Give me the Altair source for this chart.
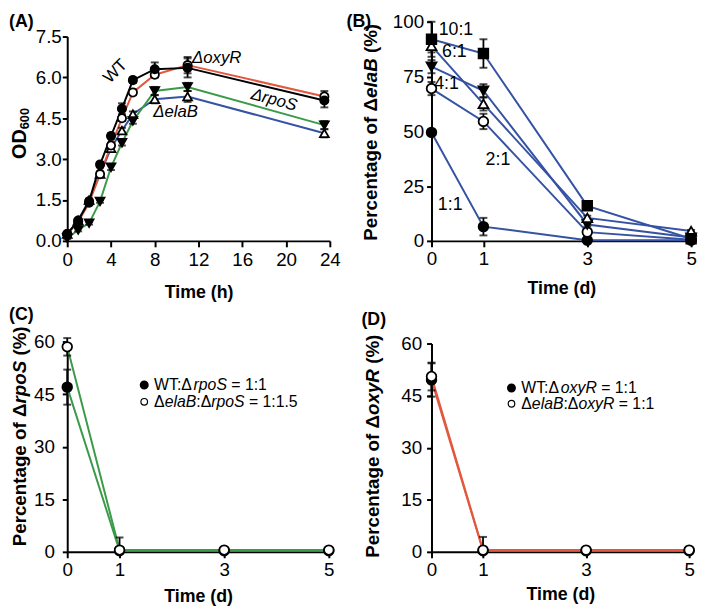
import altair as alt
import pandas as pd

FONT = "Liberation Sans"
RED = "#e2583f"
GREEN = "#3b9a48"
BLUE = "#3552a3"

# ---------------- (A) growth curves: OD600 vs time (h) ----------------
a_time = [0, 1, 2, 3, 4, 5, 6, 8, 11, 23.5]
a_wt = [0.25, 0.75, 1.45, 2.80, 3.85, 4.85, 5.90, 6.30, 6.35, 5.15]
a_wt_err = [0.05, 0.05, 0.08, 0.10, 0.10, 0.20, 0.10, 0.25, 0.35, 0.25]
a_oxyr = [0.25, 0.70, 1.40, 2.45, 3.50, 4.50, 5.45, 6.10, 6.45, 5.30]
a_oxyr_err = [0.05, 0.05, 0.05, 0.10, 0.10, 0.10, 0.10, 0.10, 0.30, 0.20]
a_rpos = [0.10, 0.40, 0.65, 1.45, 2.70, 3.60, 4.40, 5.50, 5.65, 4.25]
a_rpos_err = [0.03, 0.05, 0.05, 0.05, 0.10, 0.10, 0.10, 0.15, 0.15, 0.15]
a_elab = [0.25, 0.75, 1.50, 2.45, 3.40, 4.05, 4.65, 5.20, 5.30, 3.95]
a_elab_err = [0.03, 0.05, 0.05, 0.05, 0.10, 0.10, 0.10, 0.15, 0.20, 0.15]
a_xticks = [0, 4, 8, 12, 16, 20, 24]
a_yticks = [0, 1.5, 3.0, 4.5, 6.0, 7.5]
a_lab_text = ["WT", "ΔoxyR", "ΔrpoS", "ΔelaB"]
a_lab_t = [4.4, 11.4, 18.9, 9.9]
a_lab_v = [6.22, 6.72, 5.17, 4.74]

# ---------------- (B) competition ΔelaB vs WT at ratios ----------------
b_time = [0, 1, 3, 5]
b_10 = [92.0, 85.5, 16.0, 1.0]
b_10_err = [8.0, 6.5, 1.5, 0.5]
b_6 = [89.0, 62.5, 10.5, 4.5]
b_6_err = [3.0, 3.0, 1.0, 0.5]
b_4 = [79.5, 68.5, 7.5, 1.5]
b_4_err = [3.0, 3.0, 1.0, 0.5]
b_2 = [69.5, 54.5, 4.0, 0.5]
b_2_err = [3.0, 3.5, 1.0, 0.3]
b_1 = [49.5, 6.5, 0.3, 0.3]
b_1_err = [1.0, 4.0, 0.3, 0.3]
b_yticks = [0, 25, 50, 75, 100]
b_lab_text = ["10:1", "6:1", "4:1", "2:1", "1:1"]
b_lab_t = [0.47, 0.44, 0.29, 1.28, 0.36]
b_lab_v = [96.0, 86.0, 71.4, 37.0, 16.5]

# ---------------- (C) ΔrpoS competitions ----------------
c_time = [0, 1, 3, 5]
c_wt = [47.0, 0.3, 0.3, 0.3]
c_wt_err = [5.0, 0.3, 0.2, 0.2]
c_elab = [58.5, 0.5, 0.5, 0.5]
c_elab_err = [2.5, 3.6, 0.2, 0.2]

# ---------------- (D) ΔoxyR competitions ----------------
d_time = [0, 1, 3, 5]
d_wt = [49.5, 0.3, 0.3, 0.3]
d_wt_err = [4.8, 0.3, 0.2, 0.2]
d_elab = [50.5, 0.5, 0.5, 0.5]
d_elab_err = [4.0, 3.8, 0.2, 0.2]

day_ticks = [0, 1, 3, 5]
pct_ticks = [0, 15, 30, 45, 60]

# ---------------- helpers ----------------
W_REG = {"W": .944, "T": .611, ":": .278, "Δ": .667, " ": .278, "=": .584, "1": .556,
         ".": .278, "5": .556, "r": .333, "p": .556, "o": .556, "S": .667, "e": .556,
         "l": .222, "a": .556, "B": .667, "x": .5, "y": .5, "R": .722}
W_BOLD = {"P": .667, "e": .556, "r": .389, "c": .556, "n": .611, "t": .333, "a": .556,
          "g": .611, " ": .278, "o": .611, "f": .333, "Δ": .722, "(": .333, "%": .889,
          ")": .333, "l": .278, "B": .722, "p": .611, "S": .667, "x": .556, "y": .556,
          "R": .722, "O": .778, "D": .722, "6": .556, "0": .556}

ONE = pd.DataFrame({"k": [0]})
TICK_FS = 19


def tw(s, table, size):
    return sum(table.get(ch, 0.6) for ch in s) * size


def piece(s, x, y, size, weight="normal", style="normal", align="left",
          baseline="middle", angle=0):
    kw = dict(text=s, font=FONT, fontSize=size, fontWeight=weight, fontStyle=style,
              align=align, baseline=baseline, color="black")
    if angle:
        kw["angle"] = angle
    return alt.Chart(ONE).mark_text(**kw).encode(x=alt.value(x), y=alt.value(y))


def hrich(parts, x, y, size):
    out, cx = [], x
    for s, it in parts:
        st = s.lstrip(" ")
        cx += tw(s[:len(s) - len(st)], W_REG, size)
        out.append(piece(st, cx, y, size, style="italic" if it else "normal"))
        cx += tw(st, W_REG, size)
    return out


def vrich(parts, x, yc, size):
    total = sum(tw(s, W_BOLD, size) for s, _ in parts)
    cy = yc + total / 2
    out = []
    for s, it in parts:
        st = s.lstrip(" ")
        cy -= tw(s[:len(s) - len(st)], W_BOLD, size)
        out.append(piece(st, x, cy, size, weight="bold",
                         style="italic" if it else "normal", angle=270))
        cy -= tw(st, W_BOLD, size)
    return out


def frame(t, v, e):
    return pd.DataFrame({"t": t, "v": v,
                         "lo": [max(0.0, a - b) for a, b in zip(v, e)],
                         "hi": [a + b for a, b in zip(v, e)]})


def encs(xdom, xrange, xvals, xtitle, xlp, xtp, ydom, yrange, yvals, yfmt, ylp):
    xs = alt.Scale(domain=xdom, range=xrange, nice=False, zero=False)
    ys = alt.Scale(domain=ydom, range=yrange, nice=False, zero=False)
    xa = alt.Axis(values=xvals, title=xtitle, format="d", labelFont=FONT, labelFontSize=TICK_FS,
                  labelColor="black", labelPadding=xlp, labelFlush=False, labelOverlap=False,
                  labelBound=False, tickSize=6, tickWidth=2, tickColor="black",
                  domainColor="black", domainWidth=2, titleFont=FONT, titleFontSize=18,
                  titleFontWeight="bold", titleColor="black", titlePadding=xtp, grid=False)
    ya = alt.Axis(values=yvals, title=None, format=yfmt, labelFont=FONT, labelFontSize=TICK_FS,
                  labelColor="black", labelPadding=ylp, labelFlush=False, labelOverlap=False,
                  labelBound=False, tickSize=5, tickWidth=2, tickColor="black",
                  domainColor="black", domainWidth=2, grid=False)
    X = alt.X("t:Q", scale=xs, axis=xa)
    Y = alt.Y("v:Q", scale=ys, axis=ya)
    Ylo = alt.Y("lo:Q", scale=ys, axis=ya)
    Yhi = alt.Y("hi:Q", scale=ys, axis=ya)
    return X, Y, Ylo, Yhi


def series(df, E, color, shape, filled, size, cap=8):
    X, Y, Ylo, Yhi = E
    base = alt.Chart(df)
    line = base.mark_line(color=color, strokeWidth=2).encode(x=X, y=Y)
    rule = base.mark_rule(color="black", strokeWidth=1.8).encode(x=X, y=Ylo, y2="hi:Q")
    c1 = base.mark_tick(color="black", orient="horizontal", size=cap, thickness=2).encode(x=X, y=Ylo)
    c2 = base.mark_tick(color="black", orient="horizontal", size=cap, thickness=2).encode(x=X, y=Yhi)
    pts = base.mark_point(shape=shape, filled=True, fill="black" if filled else "white",
                          stroke="black", strokeWidth=1.8, size=size, opacity=1).encode(x=X, y=Y)
    return line, [rule, c1, c2], pts


def assemble(series_specs):
    lines, errs, pts = [], [], []
    for l, e, p in series_specs:
        lines.append(l)
        errs += e
        pts.append(p)
    return lines + errs + pts


def legend_marks(x, y1, y2):
    return [
        alt.Chart(ONE).mark_point(shape="circle", filled=True, fill="black", stroke="black",
                                  size=50, opacity=1).encode(x=alt.value(x), y=alt.value(y1)),
        alt.Chart(ONE).mark_point(shape="circle", filled=True, fill="white", stroke="black",
                                  strokeWidth=1.2, size=45, opacity=1).encode(x=alt.value(x), y=alt.value(y2)),
    ]


# ---------------- panel A ----------------
EA = encs([0, 24], [0, 266], a_xticks, "Time (h)", 4, 14,
          [0, 7.5], [222, 15], a_yticks, ".1f", 1)
A_layers = assemble([
    series(frame(a_time, a_elab, a_elab_err), EA, BLUE, "triangle-up", False, 80),
    series(frame(a_time, a_rpos, a_rpos_err), EA, GREEN, "triangle-down", True, 80),
    series(frame(a_time, a_oxyr, a_oxyr_err), EA, RED, "circle", False, 70),
    series(frame(a_time, a_wt, a_wt_err), EA, "black", "circle", True, 70),
])
a_lab = pd.DataFrame({"t": a_lab_t, "v": a_lab_v, "label": a_lab_text})
XA, YA = EA[0], EA[1]
A_layers += [
    alt.Chart(a_lab.iloc[[0]]).mark_text(font=FONT, fontSize=17, angle=315, color="black")
    .encode(x=XA, y=YA, text="label:N"),
    alt.Chart(a_lab.iloc[[1]]).mark_text(font=FONT, fontSize=17, fontStyle="italic", align="left", color="black")
    .encode(x=XA, y=YA, text="label:N"),
    alt.Chart(a_lab.iloc[[2]]).mark_text(font=FONT, fontSize=17, fontStyle="italic", angle=15, color="black")
    .encode(x=XA, y=YA, text="label:N"),
    alt.Chart(a_lab.iloc[[3]]).mark_text(font=FONT, fontSize=17, fontStyle="italic", color="black")
    .encode(x=XA, y=YA, text="label:N"),
]
A_layers += [piece("OD", -48, 139, 20, weight="bold", angle=270),
             piece("600", -43, 109, 13, weight="bold", angle=270),
             piece("(A)", -59, -9, 18, weight="bold", baseline="top")]
panelA = alt.layer(*A_layers).properties(width=266, height=222)

# ---------------- panel B ----------------
EB = encs([0, 5], [0, 263], day_ticks, "Time (d)", 3, 11,
          [0, 100], [222, 0], b_yticks, "d", 3)
B_layers = assemble([
    series(frame(b_time, b_1, b_1_err), EB, BLUE, "circle", True, 95),
    series(frame(b_time, b_2, b_2_err), EB, BLUE, "circle", False, 95),
    series(frame(b_time, b_4, b_4_err), EB, BLUE, "triangle-down", True, 100),
    series(frame(b_time, b_6, b_6_err), EB, BLUE, "triangle-up", False, 100),
    series(frame(b_time, b_10, b_10_err), EB, BLUE, "square", True, 95),
])
b_lab = pd.DataFrame({"t": b_lab_t, "v": b_lab_v, "label": b_lab_text})
B_layers += [alt.Chart(b_lab).mark_text(font=FONT, fontSize=18, color="black")
             .encode(x=EB[0], y=EB[1], text="label:N")]
B_layers += vrich([("Percentage of Δ", False), ("elaB", True), (" (%)", False)], -61, 112, 19)
B_layers += [piece("(B)", -86, -9, 18, weight="bold", baseline="top")]
panelB = alt.layer(*B_layers).properties(width=263, height=222)

# ---------------- panel C ----------------
EC = encs([0, 5], [0, 265], day_ticks, "Time (d)", 3, 8,
          [0, 60], [213, 0], pct_ticks, "d", 8)
C_layers = assemble([
    series(frame(c_time, c_wt, c_wt_err), EC, GREEN, "circle", True, 95),
    series(frame(c_time, c_elab, c_elab_err), EC, GREEN, "circle", False, 95),
])
C_layers += vrich([("Percentage of Δ", False), ("rpoS", True), (" (%)", False)], -48, 96, 19)
C_layers += legend_marks(78, 44, 61)
C_layers += hrich([("WT:Δ", False), ("rpoS", True), (" = 1:1", False)], 88, 44, 16)
C_layers += hrich([("Δ", False), ("elaB", True), (":Δ", False), ("rpoS", True), (" = 1:1.5", False)], 88, 61, 16)
C_layers += [piece("(C)", -59, -36, 18, weight="bold", baseline="top")]
panelC = alt.layer(*C_layers).properties(width=266, height=213)

# ---------------- panel D ----------------
ED = encs([0, 5], [0, 261], day_ticks, "Time (d)", 3, 6,
          [0, 60], [213, 2], pct_ticks, "d", 5)
D_layers = assemble([
    series(frame(d_time, d_wt, d_wt_err), ED, RED, "circle", True, 95),
    series(frame(d_time, d_elab, d_elab_err), ED, RED, "circle", False, 95),
])
D_layers += vrich([("Percentage of Δ", False), ("oxyR", True), (" (%)", False)], -59, 106, 19)
D_layers += legend_marks(81, 47, 63)
D_layers += hrich([("WT:Δ", False), ("oxyR", True), (" = 1:1", False)], 91, 47, 16)
D_layers += hrich([("Δ", False), ("elaB", True), (":Δ", False), ("oxyR", True), (" = 1:1", False)], 91, 63, 16)
D_layers += [piece("(D)", -71, -31, 18, weight="bold", baseline="top")]
panelD = alt.layer(*D_layers).properties(width=263, height=213)

chart = alt.concat(panelA, panelB, panelC, panelD, columns=2,
                   spacing={"row": 102, "column": 103}, bounds="flush").properties(
    padding=0, background="white"
).configure_view(stroke="transparent")

chart.save("out.html", embed_options={"renderer": "svg", "actions": False})
